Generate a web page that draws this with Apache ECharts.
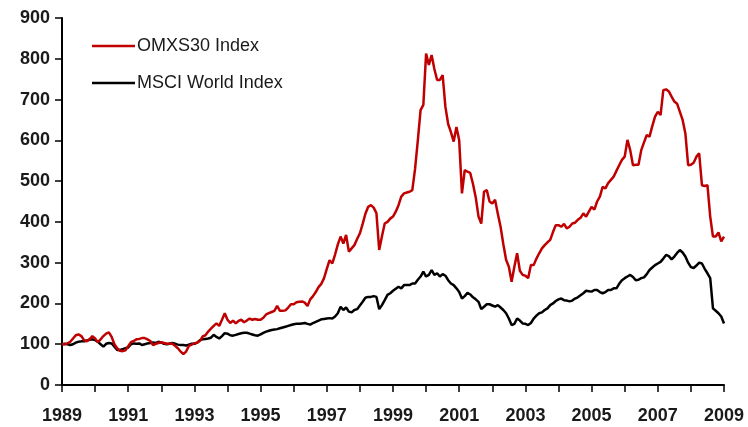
<!DOCTYPE html>
<html>
<head>
<meta charset="UTF-8">
<title>OMXS30 vs MSCI World</title>
<script src="https://cdn.jsdelivr.net/npm/echarts@6/dist/echarts.min.js"></script>
<style>
  html, body { margin: 0; padding: 0; background: #fff; }
  #chart { width: 748px; height: 427px; }
</style>
</head>
<body>
<div id="chart"></div>
<script>
// monthly index values, Jan 1989 .. Jan 2009 (base 100)
var firstYear = 1989;
var lastYear = 2009;

var omxs30 = [
  100,100,102,106,114,122,124,120,110,107,112,120,   // 1989
  114,105,112,120,126,129,118,100, 90, 84, 83, 85,   // 1990
   95,105,108,112,113,115,115,112,108, 98,101,103,   // 1991
  105,103,101,102,101, 96, 90, 82, 76, 82, 96, 99,   // 1992
  102,104,108,119,122,131,138,145,151,145,160,176,   // 1993
  160,152,158,151,157,160,154,158,163,160,162,160,   // 1994
  160,165,173,176,179,182,194,182,182,183,190,198,   // 1995
  198,203,204,205,202,194,210,218,228,240,248,262,   // 1996
  285,306,298,320,345,364,347,368,327,335,343,358,   // 1997
  372,395,420,437,441,435,421,331,365,396,400,408,   // 1998
  413,425,441,462,470,472,474,478,530,600,674,687,   // 1999
  813,785,809,775,748,748,760,682,640,620,597,633,   // 2000
  600,470,527,523,520,493,460,413,396,474,478,450,   // 2001
  445,454,420,388,345,307,290,253,290,323,280,270,   // 2002
  268,262,294,294,310,323,335,343,350,356,375,392,   // 2003
  392,388,395,384,388,396,398,405,410,421,413,425,   // 2004
  437,430,450,462,486,482,495,503,511,525,539,552,   // 2005
  560,601,576,539,540,540,576,595,613,609,635,658,   // 2006
  670,662,723,725,720,707,695,690,670,650,617,539,   // 2007
  540,545,560,568,490,488,490,413,364,364,374,352,   // 2008
  364                                                // 2009
];

var msciWorld = [
  100,101,100, 98,100,104,106,107,107,109,111,112,   // 1989
  110,106,100, 94,101,103,102, 94, 86, 86, 88, 90,   // 1990
   92,100,102,101,102, 98,100,102,103,104,103,106,   // 1991
  104,101,100,101,103,101, 99, 98, 98, 97, 99,101,   // 1992
  101,104,110,112,113,114,116,123,118,114,120,127,   // 1993
  126,122,121,123,125,127,128,128,126,124,122,121,   // 1994
  124,128,131,133,135,136,137,139,141,143,145,147,   // 1995
  149,150,150,151,152,150,148,152,155,158,161,162,   // 1996
  163,164,163,168,176,192,184,190,180,178,184,186,   // 1997
  195,204,214,216,216,218,216,186,196,208,221,225,   // 1998
  231,236,241,237,245,245,245,249,249,258,266,278,   // 1999
  266,270,282,270,274,266,272,268,257,249,245,237,   // 2000
  228,212,218,226,222,215,210,204,186,192,198,198,   // 2001
  195,192,196,190,184,176,163,147,150,163,158,151,   // 2002
  150,147,152,163,170,176,178,184,188,196,200,206,   // 2003
  210,212,208,207,205,207,212,215,220,225,231,230,   // 2004
  229,233,233,228,225,228,233,233,237,237,248,257,   // 2005
  262,266,270,265,257,258,262,264,272,282,288,294,   // 2006
  298,302,310,319,316,308,315,324,331,325,315,300,   // 2007
  289,287,293,300,298,285,274,262,188,182,176,168,   // 2008
  151                                                // 2009
];

// month categories, the year is only written on January
var months = [];
for (var y = firstYear; y <= lastYear; y++) {
  for (var m = 0; m < 12; m++) {
    if (y === lastYear && m > 0) break;
    months.push(m === 0 ? String(y) : y + '-' + (m + 1));
  }
}

var chart = echarts.init(document.getElementById('chart'), null, {renderer: 'canvas'});

var axisFont = {
  fontFamily: 'Liberation Sans',
  fontSize: 18,
  fontWeight: 'bold',
  color: '#1a1a1a'
};

var option = {
  backgroundColor: '#fff',
  animation: false,
  grid: {left: 62, right: 24, top: 18, bottom: 42},
  legend: {
    orient: 'vertical',
    left: 87,
    top: 31,
    icon: 'rect',
    itemWidth: 43,
    itemHeight: 2.5,
    itemGap: 17,
    textStyle: {
      fontFamily: 'Liberation Sans',
      fontSize: 18,
      lineHeight: 20,
      color: '#1a1a1a',
      padding: [0, 0, 0, -3]
    },
    data: ['OMXS30 Index', 'MSCI World Index']
  },
  xAxis: {
    type: 'category',
    data: months,
    boundaryGap: false,
    axisLine: {lineStyle: {color: '#000', width: 2}},
    axisTick: {show: true, interval: 11, length: 7, lineStyle: {color: '#000', width: 1.5}},
    axisLabel: Object.assign({
      interval: 23,
      margin: 22,
      formatter: function (v) { return v.length === 4 ? v : ''; }
    }, axisFont),
    splitLine: {show: false}
  },
  yAxis: {
    type: 'value',
    min: 0,
    max: 900,
    interval: 100,
    axisLine: {show: true, lineStyle: {color: '#000', width: 2}},
    axisTick: {show: true, length: 7, lineStyle: {color: '#000', width: 1.5}},
    axisLabel: Object.assign({margin: 12}, axisFont),
    splitLine: {show: false}
  },
  series: [
    {
      name: 'OMXS30 Index',
      type: 'line',
      data: omxs30,
      symbol: 'none',
      lineStyle: {color: '#c00000', width: 2.5},
      itemStyle: {color: '#c00000'},
      z: 3
    },
    {
      name: 'MSCI World Index',
      type: 'line',
      data: msciWorld,
      symbol: 'none',
      lineStyle: {color: '#000', width: 2.5},
      itemStyle: {color: '#000'},
      z: 2
    }
  ]
};

chart.setOption(option);
</script>
</body>
</html>
